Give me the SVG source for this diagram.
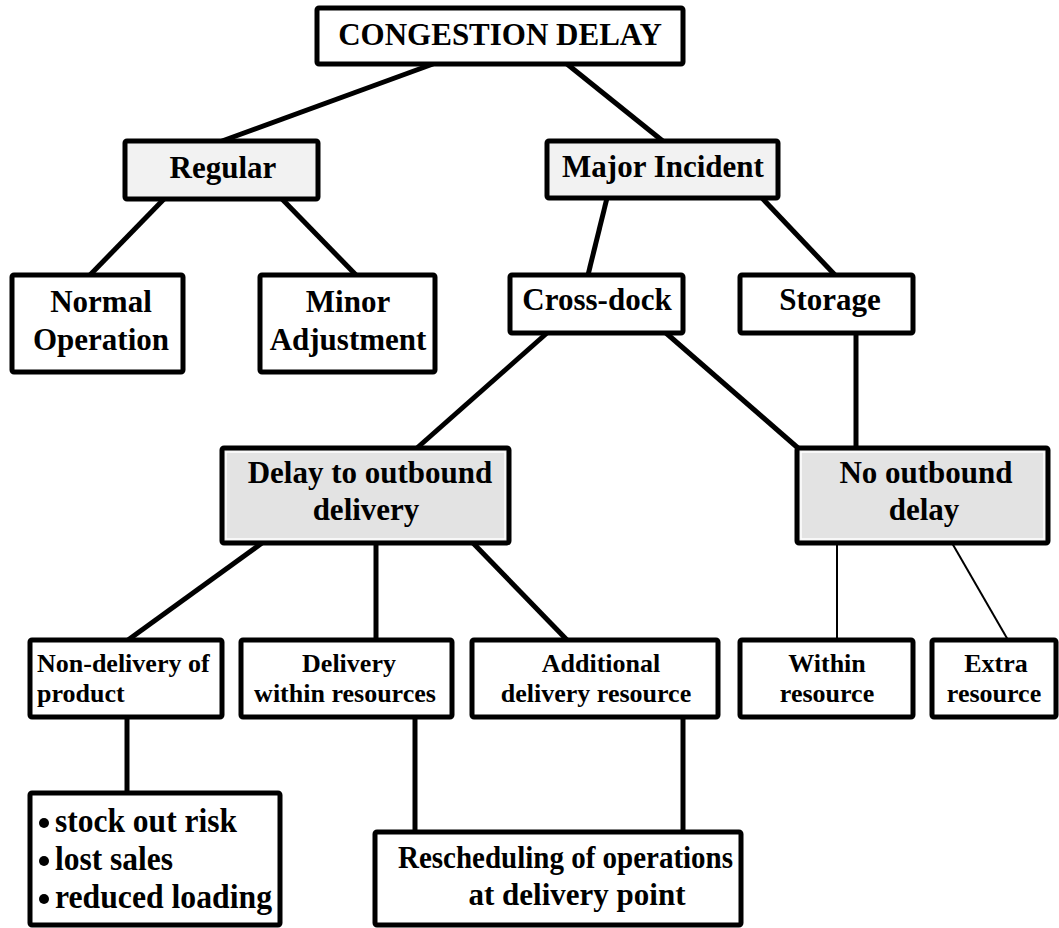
<svg xmlns="http://www.w3.org/2000/svg" width="1059" height="928" viewBox="0 0 1059 928">
<style>
.box{fill:#ffffff;stroke:#000000;stroke-width:5}
.lt{fill:#f2f2f2}
.dk{fill:#e3e3e3}
.inner{fill:none;stroke:#ffffff;stroke-width:1.5}
.t{font-family:"Liberation Serif","Times New Roman",serif;font-weight:bold;fill:#000000;text-anchor:middle}
.big{font-size:31px}
.sm{font-size:26px}
.bl{font-size:34px;text-anchor:start}
.c{stroke:#000000;stroke-width:5;fill:none}
.thin{stroke:#000000;stroke-width:2;fill:none}
</style>
<g id="connectors">
<line class="c" x1="433" y1="64" x2="222" y2="141"/>
<line class="c" x1="567" y1="64" x2="664" y2="142"/>
<line class="c" x1="164" y1="199" x2="90" y2="275"/>
<line class="c" x1="282" y1="199" x2="356" y2="275"/>
<line class="c" x1="607" y1="198" x2="588" y2="275"/>
<line class="c" x1="762" y1="198" x2="835" y2="275"/>
<line class="c" x1="547" y1="333" x2="417" y2="448"/>
<line class="c" x1="666" y1="333" x2="798" y2="448"/>
<line class="c" x1="856" y1="333" x2="856" y2="448"/>
<line class="c" x1="262" y1="543" x2="128" y2="640"/>
<line class="c" x1="376" y1="543" x2="376" y2="640"/>
<line class="c" x1="473" y1="543" x2="567" y2="640"/>
<line class="thin" x1="837" y1="543" x2="837" y2="640"/>
<line class="thin" x1="952" y1="543" x2="1008" y2="640"/>
<line class="c" x1="127" y1="717" x2="127" y2="793"/>
<line class="c" x1="415" y1="717" x2="415" y2="832"/>
<line class="c" x1="683" y1="717" x2="683" y2="832"/>
</g>
<g id="congestion">
<rect class="box" x="317" y="8" width="366" height="56" rx="2"/>
<text class="t big" x="500" y="45">CONGESTION DELAY</text>
</g>
<g id="regular">
<rect class="box lt" x="125" y="141" width="193" height="58" rx="2"/>
<text class="t big" x="223" y="178">Regular</text>
</g>
<g id="major">
<rect class="box lt" x="547" y="141" width="231" height="57" rx="2"/>
<text class="t big" x="663" y="177">Major Incident</text>
</g>
<g id="normal">
<rect class="box" x="12" y="275" width="171" height="97" rx="2"/>
<text class="t big" x="101" y="312">Normal</text>
<text class="t big" x="101" y="350">Operation</text>
</g>
<g id="minor">
<rect class="box" x="260" y="275" width="175" height="97" rx="2"/>
<text class="t big" x="348" y="312">Minor</text>
<text class="t big" x="348" y="350">Adjustment</text>
</g>
<g id="crossdock">
<rect class="box" x="510" y="275" width="173" height="58" rx="2"/>
<text class="t big" x="597" y="310">Cross-dock</text>
</g>
<g id="storage">
<rect class="box" x="740" y="275" width="173" height="58" rx="2"/>
<text class="t big" x="830" y="310">Storage</text>
</g>
<g id="delay">
<rect class="box dk" x="222" y="448" width="287" height="95" rx="2"/>
<rect class="inner" x="226" y="452" width="279" height="87"/>
<text class="t big" x="370" y="483">Delay to outbound</text>
<text class="t big" x="366" y="520">delivery</text>
</g>
<g id="nooutbound">
<rect class="box dk" x="797" y="448" width="251" height="95" rx="2"/>
<rect class="inner" x="801" y="452" width="243" height="87"/>
<text class="t big" x="926" y="483">No outbound</text>
<text class="t big" x="924" y="520">delay</text>
</g>
<g id="nondelivery">
<rect class="box" x="30" y="640" width="192" height="77" rx="2"/>
<text class="t sm" x="37" y="672" style="text-anchor:start">Non-delivery of</text>
<text class="t sm" x="37" y="702" style="text-anchor:start">product</text>
</g>
<g id="within_resources">
<rect class="box" x="241" y="640" width="211" height="77" rx="2"/>
<text class="t sm" x="349" y="672">Delivery</text>
<text class="t sm" x="345" y="702">within resources</text>
</g>
<g id="additional">
<rect class="box" x="472" y="640" width="246" height="77" rx="2"/>
<text class="t sm" x="601" y="672">Additional</text>
<text class="t sm" x="596" y="702">delivery resource</text>
</g>
<g id="within_resource">
<rect class="box" x="740" y="640" width="173" height="77" rx="2"/>
<text class="t sm" x="827" y="672">Within</text>
<text class="t sm" x="827" y="702">resource</text>
</g>
<g id="extra">
<rect class="box" x="932" y="640" width="124" height="77" rx="2"/>
<text class="t sm" x="996" y="672">Extra</text>
<text class="t sm" x="994" y="702">resource</text>
</g>
<g id="bullets">
<rect class="box" x="30" y="793" width="250" height="132" rx="2"/>
<circle cx="44" cy="823" r="5"/>
<circle cx="44" cy="861" r="5"/>
<circle cx="44" cy="899" r="5"/>
<text class="t bl" x="55" y="832" textLength="182" lengthAdjust="spacingAndGlyphs">stock out risk</text>
<text class="t bl" x="55" y="870" textLength="118" lengthAdjust="spacingAndGlyphs">lost sales</text>
<text class="t bl" x="55" y="908" textLength="217" lengthAdjust="spacingAndGlyphs">reduced loading</text>
</g>
<g id="rescheduling">
<rect class="box" x="375" y="832" width="366" height="93" rx="2"/>
<text class="t big" x="398" y="868" style="text-anchor:start" textLength="335" lengthAdjust="spacingAndGlyphs">Rescheduling of operations</text>
<text class="t big" x="577" y="905">at delivery point</text>
</g>
</svg>
